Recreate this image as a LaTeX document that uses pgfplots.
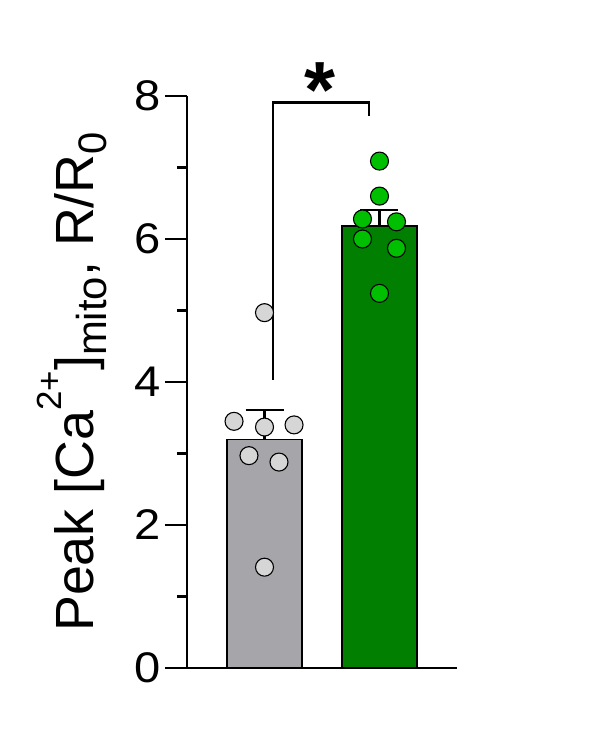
\documentclass[border=0pt]{standalone}
\usepackage{fontspec}
\setmainfont{Liberation Sans}
\newfontfamily\tickfont[FakeStretch=1.1]{Liberation Sans}
\usepackage{pgfplots}
\pgfplotsset{compat=1.18}
\definecolor{barGray}{HTML}{A6A6AA}
\definecolor{dotGray}{HTML}{D6D6D6}
\definecolor{barGreen}{HTML}{007F00}
\definecolor{dotGreen}{HTML}{00BE00}
\begin{document}
\begin{tikzpicture}
\useasboundingbox (-187bp,-78bp) rectangle (407bp,668bp);
\begin{axis}[
  at={(0,0)}, anchor=south west,
  scale only axis, width=270bp, height=572bp,
  xmin=0.326, xmax=2.674, ymin=0, ymax=8,
  axis x line*=bottom, axis y line*=left,
  axis line style={line width=2.2bp},
  xtick=\empty,
  ytick={0,2,4,6,8}, minor ytick={1,3,5,7},
  major tick length=22bp, minor tick length=10bp,
  tick align=outside,
  tick style={line width=2.2bp, black},
  /pgf/number format/assume math mode=true,
  yticklabel style={font=\tickfont\fontsize{43}{46}\selectfont, xshift=-1bp},
  ylabel={Peak [Ca\raisebox{0.6em}{\fontsize{35}{35}\selectfont 2+}]\raisebox{-0.24em}{\fontsize{42}{42}\selectfont mito}, R/R\raisebox{-0.24em}{\fontsize{40}{40}\selectfont 0}},
  ylabel style={font=\fontsize{54}{58}\selectfont, at={(axis description cs:-0.345,0.5)}, anchor=base, rotate=0},
  clip=false,
]
% bars
\addplot[ybar, bar width=75bp, bar shift=0pt, fill=barGray, draw=black, line width=1.3bp,
  error bars/.cd, y dir=plus, y explicit,
  error bar style={line width=2.2bp, black},
  error mark options={rotate=90, mark size=19bp, line width=2.2bp, black}]
  coordinates {(1,3.20) +- (0,0.41)};
\addplot[ybar, bar width=75bp, bar shift=0pt, fill=barGreen, draw=black, line width=1.3bp,
  error bars/.cd, y dir=plus, y explicit,
  error bar style={line width=2.2bp, black},
  error mark options={rotate=90, mark size=19bp, line width=2.2bp, black}]
  coordinates {(2,6.18) +- (0,0.23)};
% significance bracket
\draw[line width=2.2bp] (axis cs:1.074,4.03) -- (axis cs:1.074,7.91) -- (axis cs:1.909,7.91) -- (axis cs:1.909,7.72);
\node[font=\fontsize{80}{82}\selectfont\bfseries] at (axis cs:1.48,8.08) {*};
% points
\addplot[only marks, mark=*, mark size=9bp, mark options={fill=dotGray, draw=black, line width=1.1bp}]
  coordinates {(0.735,3.45) (1.0,3.37) (1.257,3.40) (0.865,2.97) (1.126,2.88) (1.0,1.41) (1.0,4.97)};
\addplot[only marks, mark=*, mark size=9bp, mark options={fill=dotGreen, draw=black, line width=1.1bp}]
  coordinates {(2,7.09) (2,6.60) (1.852,6.28) (2.148,6.24) (1.852,6.0) (2.148,5.87) (2,5.24)};
\end{axis}
\end{tikzpicture}
\end{document}
